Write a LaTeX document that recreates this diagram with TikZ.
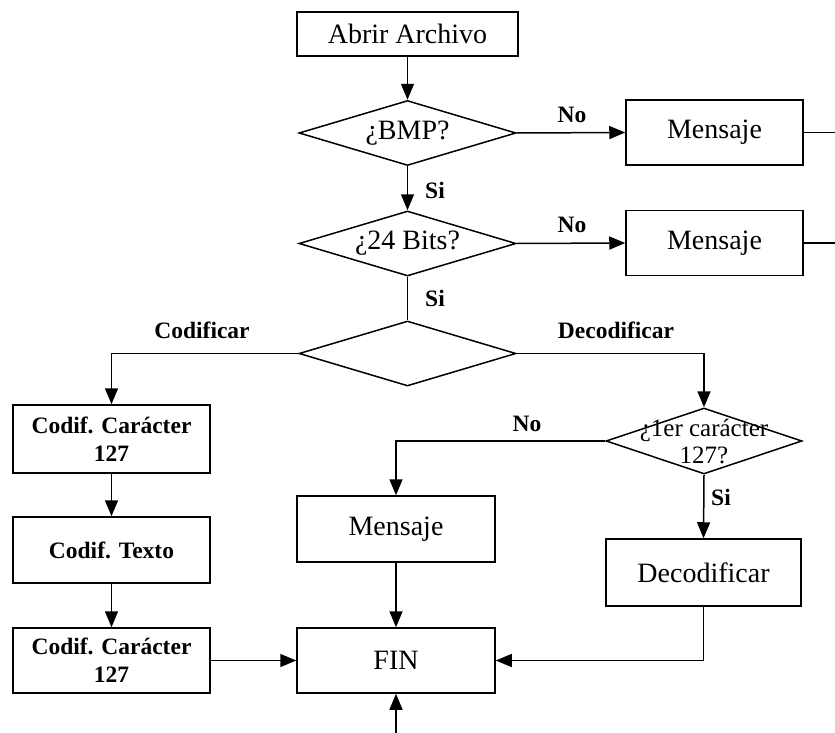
\documentclass[tikz,border=0pt]{standalone}
\usepackage{fontspec}
\setmainfont{Liberation Serif}
\usetikzlibrary{shapes.geometric,arrows.meta}

\tikzset{
  proc/.style={draw, rectangle, line width=1.5pt, inner sep=0pt, align=center,
    font=\fontsize{28}{30}\selectfont},
  codbox/.style={proc, minimum width=197pt, minimum height=66pt,
    font=\bfseries\fontsize{23.5}{28}\selectfont},
  decision/.style={draw, diamond, line width=1.5pt, inner sep=0pt, aspect=3.3,
    minimum width=217pt, minimum height=65pt, font=\fontsize{28}{30}\selectfont},
  lbl/.style={font=\bfseries\fontsize{23.5}{26}\selectfont},
  flow/.style={line width=1.5pt, -{Triangle[length=16pt,width=13pt]}},
  plain/.style={line width=1.5pt}
}

\begin{document}
\begin{tikzpicture}[x=1pt, y=-1pt]
		\useasboundingbox[fill=white] (0,0) rectangle (835,733);

		% Upper part
		\node[proc, minimum width=221pt, minimum height=44pt] (abrir) at (407.5,34) {Abrir Archivo};
		\node[decision] (bmp) at (407.5,133) {¿BMP?};
		\node[proc, minimum width=177pt, minimum height=65pt] (msgA) at (714.5,132.5) {Mensaje};
		\node[decision] (bits) at (407.5,243.5) {¿24 Bits?};
		\node[proc, minimum width=177pt, minimum height=65pt] (msgB) at (714.5,243) {Mensaje};
		\coordinate (outA) at (835,132.5);
		\coordinate (outB) at (835,243);

		% Choice of mode
		\node[decision] (modo) at (407.5,353.5) {};

		% Left branch (Codificar)
		\node[codbox, minimum height=68pt] (codA) at (111.5,439) {Codif. Carácter\\127};
		\node[codbox] (codB) at (111.5,550) {Codif. Texto};
		\node[codbox, minimum height=65pt] (codC) at (111.5,660.5) {Codif. Carácter\\127};

		% Right branch (Decodificar)
		\node[decision, minimum width=196pt, minimum height=66pt] (chk) at (704,441) {};
		\node[align=center, font=\fontsize{25}{27}\selectfont] (chktxt) at (704,441) {¿1er carácter\\127?};
		\node[proc, minimum width=198pt, minimum height=66pt] (msgC) at (396,529) {Mensaje};
		\node[proc, minimum width=195pt, minimum height=67pt] (decod) at (703.5,572.5) {Decodificar};

		% End
		\node[proc, minimum width=198pt, minimum height=65pt] (fin) at (396,660.5) {FIN};
		\coordinate (entry) at (396,733);

		% Connectors
		\draw[flow] (abrir) -- (bmp);
		\draw[flow] (bmp.east) -- (msgA.west);
		\draw[plain] (msgA.east) -- (outA);
		\draw[flow] (bmp.south) -- (bits.north);
		\draw[flow] (bits.east) -- (msgB.west);
		\draw[plain] (msgB.east) -- (outB);
		\draw[plain] (bits.south) -- (modo.north);
		\draw[flow] (modo.west) -| (codA.north);
		\draw[flow] (modo.east) -| (chk.north);
		\draw[flow] (codA) -- (codB);
		\draw[flow] (codB) -- (codC);
		\draw[flow] (codC) -- (fin);
		\draw[flow] (chk.west) -| (msgC.north);
		\draw[flow] (chk.south) -- (decod.north);
		\draw[flow] (msgC) -- (fin);
		\draw[flow] (decod.south) |- (fin.east);
		\draw[flow] (entry) -- (fin.south);

		% Labels
		\node[lbl] at (572,115) {No};
		\node[lbl] at (435,190) {Si};
		\node[lbl] at (572,225) {No};
		\node[lbl] at (435,298) {Si};
		\node[lbl] at (202,330) {Codificar};
		\node[lbl] at (616,330) {Decodificar};
		\node[lbl] at (527,424) {No};
		\node[lbl] at (721,497) {Si};
	\end{tikzpicture}
\end{document}
